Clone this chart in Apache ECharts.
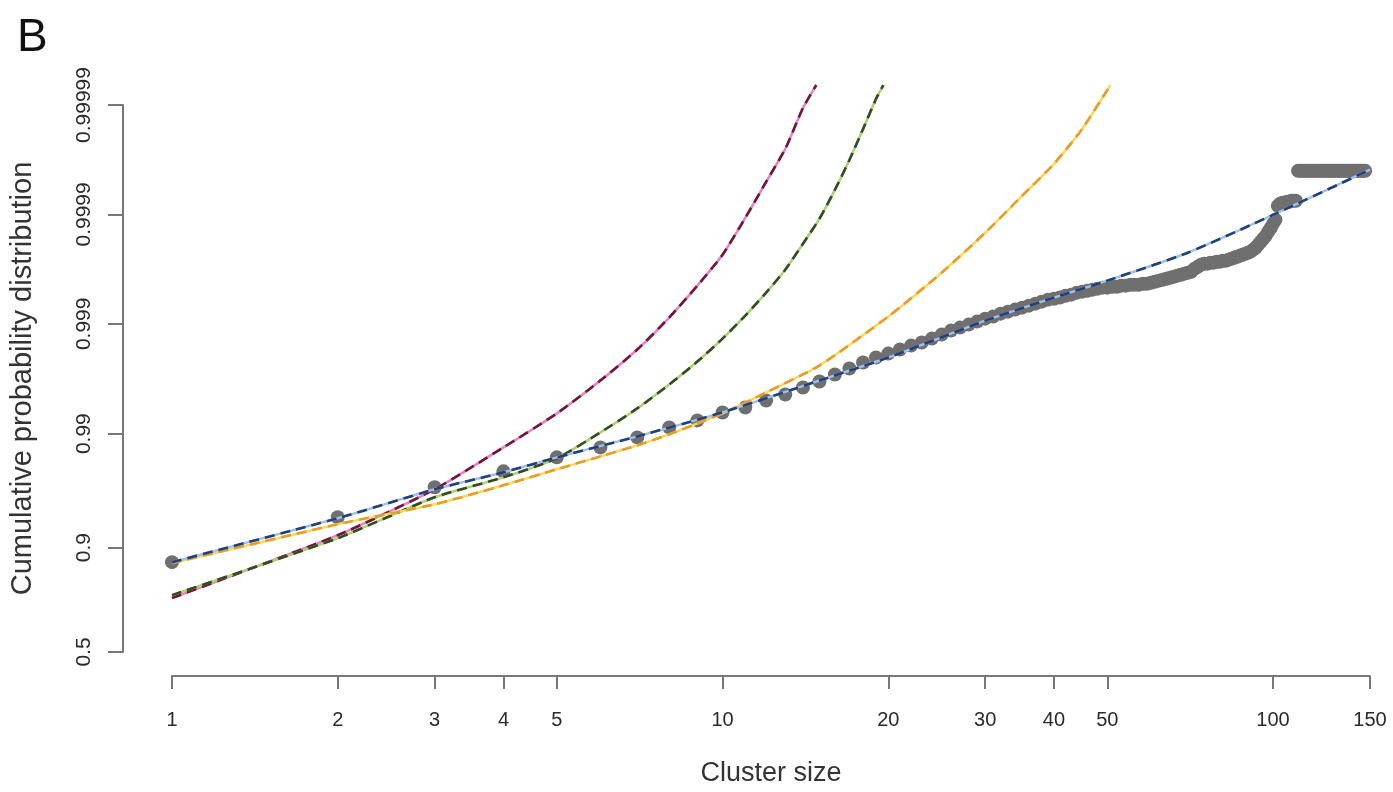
<!DOCTYPE html>
<html>
<head>
<meta charset="utf-8">
<script src="https://cdn.jsdelivr.net/npm/echarts@6/dist/echarts.min.js"></script>
<style>
  html, body { margin: 0; padding: 0; background: #ffffff; }
  #chart { width: 1393px; height: 792px; }
</style>
</head>
<body>
<div id="chart"></div>
<script>
// ---- data ----
const xTickLabels = [1, 2, 3, 4, 5, 10, 20, 30, 40, 50, 100, 150];
const yTickLabels = [0.5, 0.9, 0.99, 0.999, 0.9999, 0.99999];

// empirical cumulative distribution (grey points), cluster sizes 1..147
const empiricalSizes = [
  1,2,3,4,5,6,7,8,9,10,11,12,13,14,15,16,17,18,19,20,
  21,22,23,24,25,26,27,28,29,30,31,32,33,34,35,36,37,38,39,40,
  41,42,43,44,45,46,47,48,49,50,51,52,53,54,55,56,57,58,59,60,
  61,62,63,64,65,66,67,68,69,70,71,72,73,74,75,76,77,78,79,80,
  81,82,83,84,85,86,87,88,89,90,91,92,93,94,95,96,97,98,99,100,
  101,102,103,104,105,106,107,108,109,110,111,112,113,114,115,116,117,118,119,120,
  121,122,123,124,125,126,127,128,129,130,131,132,133,134,135,136,137,138,139,140,
  141,142,143,144,145,146,147
];
const empiricalCDF = [
  0.86885,0.94460,0.969725,0.978175,0.983644,0.986702,0.989195,0.991226,0.992418,0.993582,
  0.994218,0.995005,0.995593,0.996195,0.996643,0.997101,0.997443,0.997746,0.997970,0.998132,
  0.998284,0.998421,0.998518,0.998637,0.998747,0.998848,0.998918,0.998984,0.999046,0.999104,
  0.999141,0.999193,0.999226,0.999259,0.999289,0.999318,0.999346,0.999373,0.999399,0.999411,
  0.999424,0.999447,0.999459,0.999481,0.999492,0.999502,0.999513,0.999523,0.999533,0.999533,
  0.999542,0.999542,0.999552,0.999552,0.999561,0.999561,0.999561,0.999570,0.999570,0.999579,
  0.999588,0.999597,0.999605,0.999613,0.999621,0.999629,0.999637,0.999644,0.999652,0.999659,
  0.999666,0.999686,0.999699,0.999712,0.999718,0.999718,0.999724,0.999724,0.999729,0.999729,
  0.999735,0.999735,0.999741,0.999746,0.999751,0.999756,0.999761,0.999766,0.999771,0.999776,
  0.999781,0.999790,0.999798,0.999811,0.999822,0.999833,0.999843,0.999856,0.999867,0.999878,
  0.999888,0.9999165,0.999920,0.9999216,0.9999216,0.9999233,0.9999233,0.9999249,0.9999249,0.9999249,
  0.99996,0.99996,0.99996,0.99996,0.99996,0.99996,0.99996,0.99996,0.99996,0.99996,
  0.99996,0.99996,0.99996,0.99996,0.99996,0.99996,0.99996,0.99996,0.99996,0.99996,
  0.99996,0.99996,0.99996,0.99996,0.99996,0.99996,0.99996,0.99996,0.99996,0.99996,
  0.99996,0.99996,0.99996,0.99996,0.99996,0.99996,0.99996
];

// fitted curve through the points (blue)
const blueSizes = [1, 2, 3, 4, 5, 7, 10, 15, 20, 30, 40, 50, 70, 100, 150];
const blueCDF = [0.8688, 0.9435, 0.96845, 0.97773, 0.98363, 0.98942, 0.99359, 0.99671,
  0.99797, 0.999065, 0.999424, 0.999597, 0.999776, 0.999899, 0.999961];

// magenta curve
const magentaSizes = [1, 2, 3, 4, 5, 6, 7, 8, 9, 10, 11, 12, 13, 14, 14.8];
const magentaCDF = [0.7567, 0.92114, 0.96845, 0.98670, 0.993447, 0.99671, 0.998285, 0.999124,
  0.999552, 0.999766, 0.9998926, 0.99994955, 0.9999748, 0.99998936, 0.99999343];

// green curve
const greenSizes = [1, 2, 3, 4, 5, 6, 7, 8, 9, 10, 11, 12, 13, 14, 15, 16, 17, 18, 19, 19.6];
const greenCDF = [0.76804, 0.91647, 0.96291, 0.97531, 0.98331, 0.990263, 0.994097, 0.996424,
  0.997791, 0.998637, 0.999159, 0.999481, 0.999680, 0.9998147, 0.9998904, 0.9999403,
  0.9999682, 0.99998344, 0.99999119, 0.99999343];

// yellow curve
const yellowSizes = [1, 2, 3, 4, 5, 6, 7, 8, 9, 10, 12, 15, 20, 25, 30, 35, 40, 45, 50, 50.6];
const yellowCDF = [0.86649, 0.93639, 0.95726, 0.97093, 0.97908, 0.98397, 0.98724, 0.98985,
  0.99192, 0.99345, 0.995775, 0.997599, 0.999142, 0.999659, 0.9998528, 0.9999324,
  0.99996548, 0.99998344, 0.99999271, 0.99999343];

// ---- scale transforms (log10 x, logit10 y) ----
const tx = s => Math.log10(s);
const ty = p => Math.log10(p / (1 - p));
const pairs = (xs, ps) => xs.map((s, i) => [tx(s), ty(ps[i])]);

const xTickVals = xTickLabels.map(tx);
const yTickVals = yTickLabels.map(ty);
function nearestLabel(v, vals, labels) {
  let best = 0;
  for (let i = 1; i < vals.length; i++) {
    if (Math.abs(vals[i] - v) < Math.abs(vals[best] - v)) best = i;
  }
  return String(labels[best]);
}

const FONT = 'Liberation Sans, Arial, Helvetica, sans-serif';
const axisGrey = '#777777';

function curve(name, xs, ps, base, dash) {
  const d = pairs(xs, ps);
  return [
    { name: name + ' base', type: 'line', data: d, symbol: 'none', clip: false,
      smooth: 0.2, silent: true,
      lineStyle: { color: base, width: 2.5, join: 'round' } },
    { name: name, type: 'line', data: d, symbol: 'none', clip: false,
      smooth: 0.2, silent: true,
      lineStyle: { color: dash, width: 2.6, type: [10, 6], join: 'round' } }
  ];
}

const chart = echarts.init(document.getElementById('chart'), null, { renderer: 'canvas' });
chart.setOption({
  animation: false,
  backgroundColor: '#ffffff',
  title: {
    text: 'B', left: 12, top: 10,
    textStyle: { fontFamily: FONT, fontSize: 46, fontWeight: 'normal', color: '#111' }
  },
  grid: { left: 171, right: 23, top: 105, bottom: 139 },
  xAxis: {
    type: 'value', min: 0, max: tx(150), offset: 24,
    name: 'Cluster size', nameLocation: 'middle', nameGap: 84,
    nameTextStyle: { fontFamily: FONT, fontSize: 27, color: '#333' },
    axisLine: { show: true, onZero: false, lineStyle: { color: axisGrey, width: 2 } },
    axisTick: { show: true, length: 13, customValues: xTickVals, lineStyle: { color: axisGrey, width: 2 } },
    axisLabel: {
      customValues: xTickVals, margin: 34, fontFamily: FONT, fontSize: 20, color: '#2a2a2a',
      formatter: v => nearestLabel(v, xTickVals, xTickLabels)
    },
    splitLine: { show: false }
  },
  yAxis: {
    type: 'value', min: 0, max: 5, offset: 49,
    name: 'Cumulative probability distribution', nameLocation: 'middle', nameGap: 86,
    nameTextStyle: { fontFamily: FONT, fontSize: 29, color: '#333' },
    axisLine: { show: true, onZero: false, lineStyle: { color: axisGrey, width: 2 } },
    axisTick: { show: true, length: 15, customValues: yTickVals, lineStyle: { color: axisGrey, width: 2 } },
    axisLabel: {
      customValues: yTickVals, rotate: 90, margin: 28, fontFamily: FONT, fontSize: 21, color: '#2a2a2a',
      formatter: v => nearestLabel(v, yTickVals, yTickLabels)
    },
    splitLine: { show: false }
  },
  series: [
    { name: 'empirical', type: 'scatter', data: pairs(empiricalSizes, empiricalCDF),
      symbol: 'circle', symbolSize: 14, clip: false, silent: true,
      itemStyle: { color: '#6f6f6f', opacity: 1 } },
    ...curve('magenta', magentaSizes, magentaCDF, '#ef7fc0', '#6e1838'),
    ...curve('green', greenSizes, greenCDF, '#a9d46f', '#344a26'),
    ...curve('yellow', yellowSizes, yellowCDF, '#f6dc55', '#eb9a2c'),
    ...curve('blue', blueSizes, blueCDF, '#9fc0ea', '#223f78')
  ]
});
</script>
</body>
</html>
